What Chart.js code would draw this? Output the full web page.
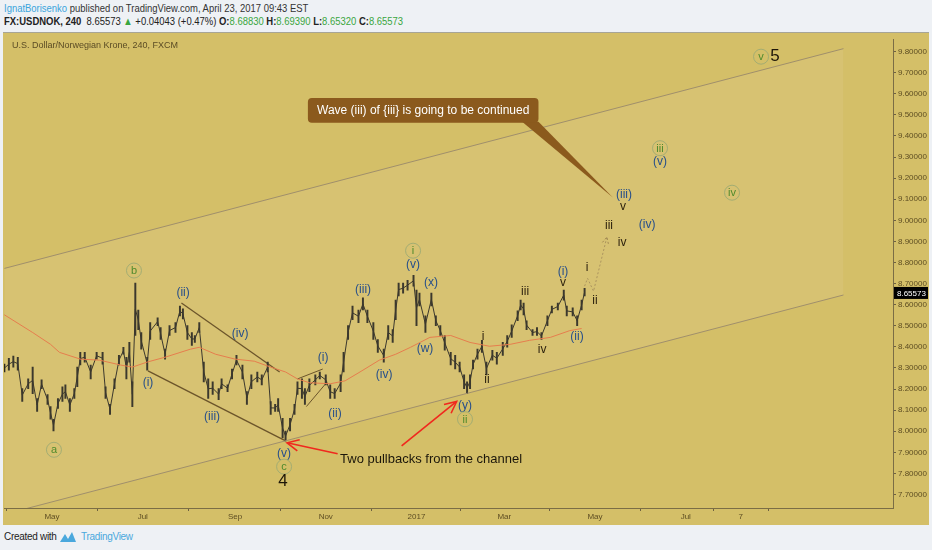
<!DOCTYPE html>
<html>
<head>
<meta charset="utf-8">
<script src="https://cdn.jsdelivr.net/npm/chart.js@4.4.0/dist/chart.umd.min.js"></script>
<style>
  body { margin:0; width:932px; height:550px; overflow:hidden; background:#eef1f5; font-family:"Liberation Sans", Arial, sans-serif; }
  .line1, .line2 { position:absolute; left:4px; font-size:11px; white-space:nowrap; transform:scaleX(0.86); transform-origin:left top; }
  .line1 { top:2px; color:#333; }
  .line2 { top:15px; color:#222; }
  .user { color:#3ba4dc; }
  .g { color:#3aa640; }
  b { font-weight:bold; }
  .topline { position:absolute; left:3px; top:32px; width:926px; height:1px; background:#a7a596; }
  #wrap { position:absolute; left:3px; top:33px; width:926px; height:492px; }
  .title { position:absolute; left:12px; top:40px; font-size:9px; color:#5b4c25; }
  .foot { position:absolute; left:4px; top:531px; font-size:10px; color:#222; letter-spacing:-0.3px; }
  .foot .tv { color:#4aa8dd; margin-left:4px; }
  .logo { display:inline-block; vertical-align:middle; }
</style>
</head>
<body>
<div class="line1"><span class="user">IgnatBorisenko</span> published on TradingView.com, April 23, 2017 09:43 EST</div>
<div class="line2"><b>FX:USDNOK, 240</b>&nbsp; 8.65573 <span class="g">▲</span> +0.04043 (+0.47%) <b>O:</b><span class="g">8.68830</span> <b>H:</b><span class="g">8.69390</span> <b>L:</b><span class="g">8.65320</span> <b>C:</b><span class="g">8.65573</span></div>
<div class="topline"></div>
<div id="wrap"><canvas id="chart"></canvas></div>
<div class="title">U.S. Dollar/Norwegian Krone, 240, FXCM</div>
<div class="foot">Created with <svg class="logo" width="18" height="12" viewBox="0 0 18 12"><path d="M1 11 L6 3 L9 8 L13 1 L17 11 Z" fill="#4aa8dd"/></svg><span class="tv">TradingView</span></div>

<script>
// days counted from 1 May 2016 (time axis of the 4H chart, squeezed to calendar days)
const tickDays = [0, 61, 123, 184, 245, 304, 365, 426, 463];
const tickLabels = ['May', 'Jul', 'Sep', 'Nov', '2017', 'Mar', 'May', 'Jul', '7'];
const priceTicks = [7.7, 7.8, 7.9, 8.0, 8.1, 8.2, 8.3, 8.4, 8.5, 8.6, 8.7, 8.8, 8.9, 9.0, 9.1, 9.2, 9.3, 9.4, 9.5, 9.6, 9.7, 9.8];

// price swings (low / high per sample)
const barDay = [
  -32, -29, -26, -23, -20, -16, -13, -10, -7, -3,
  -1, 1, 4, 7, 9, 12, 15, 17, 19, 22,
  26, 30, 34, 36, 39, 42, 45, 48, 50, 52,
  54, 56, 58, 60, 64, 66, 71, 73, 76, 79,
  83, 86, 88, 91, 94, 96, 99, 102, 105, 108,
  112, 114, 118, 121, 124, 128, 131, 134, 138, 141,
  145, 147, 150, 152, 155, 157, 160, 163, 165, 168,
  170, 173, 177, 180, 184, 187, 190, 194, 196, 199,
  202, 206, 209, 212, 216, 219, 223, 226, 229, 231,
  233, 236, 239, 243, 245, 247, 251, 255, 258, 261,
  264, 268, 271, 274, 277, 279, 281, 283, 286, 289,
  292, 296, 299, 303, 306, 309, 313, 315, 317, 319,
  323, 326, 329, 333, 336, 340, 344, 346, 350, 353,
  356, 358
];
const barHigh = [
  8.318, 8.346, 8.356, 8.351, 8.202, 8.248, 8.304, 8.155, 8.244, 8.174,
  8.117, 8.057, 8.155, 8.211, 8.220, 8.155, 8.202, 8.304, 8.374, 8.374,
  8.314, 8.374, 8.374, 8.211, 8.127, 8.248, 8.360, 8.398, 8.351, 8.421,
  8.234, 8.702, 8.575, 8.468, 8.351, 8.515, 8.538, 8.491, 8.389, 8.501,
  8.515, 8.594, 8.580, 8.501, 8.468, 8.454, 8.515, 8.328, 8.248, 8.234,
  8.202, 8.248, 8.220, 8.295, 8.360, 8.314, 8.188, 8.267, 8.281, 8.267,
  8.328, 8.141, 8.127, 8.155, 8.061, 8.001, 8.061, 8.127, 8.234, 8.248,
  8.202, 8.248, 8.267, 8.281, 8.267, 8.220, 8.202, 8.267, 8.374, 8.501,
  8.594, 8.575, 8.632, 8.575, 8.515, 8.435, 8.389, 8.501, 8.482, 8.622,
  8.702, 8.702, 8.716, 8.739, 8.669, 8.655, 8.547, 8.655, 8.547, 8.501,
  8.454, 8.374, 8.360, 8.328, 8.267, 8.234, 8.267, 8.337, 8.389, 8.431,
  8.328, 8.384, 8.374, 8.421, 8.454, 8.505, 8.571, 8.622, 8.608, 8.524,
  8.482, 8.491, 8.468, 8.547, 8.594, 8.608, 8.669, 8.594, 8.585, 8.547,
  8.622, 8.678
];
const barLow = [
  8.281, 8.290, 8.304, 8.290, 8.141, 8.202, 8.178, 8.094, 8.202, 8.127,
  8.057, 8.001, 8.108, 8.141, 8.155, 8.094, 8.155, 8.211, 8.314, 8.328,
  8.248, 8.342, 8.318, 8.155, 8.080, 8.202, 8.314, 8.365, 8.248, 8.328,
  8.117, 8.454, 8.482, 8.389, 8.290, 8.435, 8.501, 8.435, 8.342, 8.454,
  8.468, 8.547, 8.533, 8.435, 8.407, 8.421, 8.468, 8.234, 8.155, 8.174,
  8.150, 8.202, 8.188, 8.248, 8.314, 8.248, 8.127, 8.202, 8.234, 8.220,
  8.281, 8.080, 8.094, 8.094, 7.968, 7.954, 8.001, 8.080, 8.174, 8.155,
  8.127, 8.188, 8.220, 8.248, 8.220, 8.155, 8.155, 8.188, 8.281, 8.435,
  8.529, 8.515, 8.575, 8.515, 8.435, 8.374, 8.328, 8.435, 8.421, 8.529,
  8.641, 8.655, 8.669, 8.688, 8.501, 8.594, 8.468, 8.594, 8.501, 8.454,
  8.384, 8.314, 8.295, 8.281, 8.202, 8.178, 8.202, 8.295, 8.342, 8.374,
  8.267, 8.337, 8.318, 8.360, 8.398, 8.445, 8.524, 8.575, 8.552, 8.482,
  8.454, 8.454, 8.435, 8.501, 8.561, 8.575, 8.622, 8.547, 8.547, 8.501,
  8.575, 8.641
];
const lastClose = 8.65573;

// moving average (orange line)
const maDay = [-32, -13, -1, 5, 19, 32, 46, 54, 64, 76, 93, 99, 110, 123, 136, 147, 157, 165, 173, 187, 197, 207, 220, 231, 241, 254, 268, 281, 294, 308, 321, 335, 348, 356];
const maValue = [8.552, 8.468, 8.412, 8.374, 8.342, 8.337, 8.314, 8.304, 8.328, 8.351, 8.389, 8.398, 8.365, 8.342, 8.332, 8.304, 8.281, 8.248, 8.230, 8.225, 8.239, 8.281, 8.337, 8.365, 8.398, 8.445, 8.454, 8.421, 8.403, 8.412, 8.431, 8.445, 8.477, 8.487];

// trend lines
const channelDay = [-32, 532];
const channelTop = [8.772, 9.814];
const channelBottom = [7.606, 8.646];
const wedgeTopDay = [87, 153];
const wedgeTop = [8.608, 8.281];
const wedgeBottomDay = [64.5, 157];
const wedgeBottom = [8.286, 7.954];
const smallTopDay = [165, 182];
const smallTop = [8.248, 8.295];
const smallBottomDay = [171, 185];
const smallBottom = [8.117, 8.234];
const pathDay = [358, 360, 364, 373];
const pathPrice = [8.688, 8.725, 8.664, 8.921];

// red arrows: from -> to
const arrowFromDay = [192, 235];
const arrowFromPrice = [7.893, 7.931];
const arrowToDay = [158, 272];
const arrowToPrice = [7.945, 8.141];

// wave labels: b = blue, r = dark roman, c = circled, big = degree number
const waveText = ['b', 'a', '(i)', '(ii)', '(iii)', '(iv)', '(v)', 'c', '4', '(i)', '(ii)', '(iii)', '(iv)', 'i', '(v)', '(x)', '(w)', '(y)', 'ii', 'i', 'ii', 'iii', 'iv', '(i)', 'v', '(ii)', 'i', 'ii', 'iii', 'iv', '(iii)', 'v', '(iv)', 'iii', '(v)', 'iv', 'v', '5'];
const waveKind = ['c', 'c', 'b', 'b', 'b', 'b', 'b', 'c', 'big', 'b', 'b', 'b', 'b', 'c', 'b', 'b', 'b', 'b', 'c', 'r', 'r', 'r', 'r', 'b', 'r', 'b', 'r', 'r', 'r', 'r', 'b', 'r', 'b', 'c', 'b', 'c', 'c', 'big'];
const waveDay = [55.1, 1.3, 64.5, 88.1, 107.6, 126.4, 156.0, 156.0, 155.3, 182.2, 190.2, 209.1, 223.2, 242.7, 242.7, 254.8, 250.7, 277.6, 277.6, 289.7, 292.4, 318.0, 329.4, 343.5, 343.5, 352.9, 359.6, 365.0, 374.4, 383.2, 384.5, 383.8, 400.0, 408.7, 408.7, 457.1, 476.6, 486.0];
const wavePrice = [8.762, 7.912, 8.230, 8.655, 8.071, 8.463, 7.893, 7.832, 7.762, 8.351, 8.085, 8.669, 8.267, 8.856, 8.790, 8.706, 8.393, 8.122, 8.057, 8.449, 8.244, 8.664, 8.389, 8.758, 8.702, 8.449, 8.776, 8.617, 8.973, 8.893, 9.122, 9.066, 8.977, 9.342, 9.276, 9.131, 9.776, 9.776];

const noteText = 'Two pullbacks from the channel';
const noteDay = 193.6, notePrice = 7.865;
const calloutText = 'Wave (iii) of {iii} is going to be continued';
const calloutDay = [172, 327], calloutPrice = [9.580, 9.463];
const calloutTailDay = [316, 327, 377], calloutTailPrice = [9.463, 9.463, 9.108];

const pts = (xs, ys) => xs.map((v, i) => ({x: v, y: ys[i]}));

function arrowHead(ctx, x0, y0, x1, y1, len) {
  const a = Math.atan2(y1 - y0, x1 - x0);
  ctx.beginPath();
  ctx.moveTo(x1 - len * Math.cos(a - 0.45), y1 - len * Math.sin(a - 0.45));
  ctx.lineTo(x1, y1);
  ctx.lineTo(x1 - len * Math.cos(a + 0.45), y1 - len * Math.sin(a + 0.45));
  ctx.stroke();
}

const overlay = {
  id: 'overlay',
  beforeDraw(chart) {
    const ctx = chart.ctx;
    ctx.save();
    ctx.fillStyle = '#d4bf68';
    ctx.fillRect(0, 0, chart.width, chart.height);
    ctx.restore();
  },
  afterDatasetsDraw(chart) {
    const {ctx, chartArea, scales: {x, y}} = chart;
    ctx.save();
    ctx.beginPath();
    ctx.rect(chartArea.left, chartArea.top, chartArea.width, chartArea.height);
    ctx.clip();

    // projection arrow head
    const n = pathDay.length;
    ctx.strokeStyle = '#a38a52';
    ctx.lineWidth = 1;
    ctx.setLineDash([2, 2]);
    arrowHead(ctx, x.getPixelForValue(pathDay[n - 2]), y.getPixelForValue(pathPrice[n - 2]),
      x.getPixelForValue(pathDay[n - 1]), y.getPixelForValue(pathPrice[n - 1]), 7);
    ctx.setLineDash([]);

    // red arrows
    ctx.strokeStyle = '#f0281e';
    ctx.lineWidth = 1.6;
    arrowFromDay.forEach((d, i) => {
      const x0 = x.getPixelForValue(d), y0 = y.getPixelForValue(arrowFromPrice[i]);
      const x1 = x.getPixelForValue(arrowToDay[i]), y1 = y.getPixelForValue(arrowToPrice[i]);
      ctx.beginPath();
      ctx.moveTo(x0, y0);
      ctx.lineTo(x1, y1);
      ctx.stroke();
      arrowHead(ctx, x0, y0, x1, y1, 13);
    });

    // callout
    const bl = x.getPixelForValue(calloutDay[0]), br = x.getPixelForValue(calloutDay[1]);
    const bt = y.getPixelForValue(calloutPrice[0]), bb = y.getPixelForValue(calloutPrice[1]);
    ctx.fillStyle = '#8b5a1d';
    ctx.beginPath();
    ctx.moveTo(x.getPixelForValue(calloutTailDay[0]), y.getPixelForValue(calloutTailPrice[0]) - 1);
    ctx.lineTo(x.getPixelForValue(calloutTailDay[1]), y.getPixelForValue(calloutTailPrice[1]) - 1);
    ctx.lineTo(x.getPixelForValue(calloutTailDay[2]), y.getPixelForValue(calloutTailPrice[2]));
    ctx.closePath();
    ctx.fill();
    ctx.beginPath();
    ctx.roundRect(bl, bt, br - bl, bb - bt, 4);
    ctx.fill();
    ctx.fillStyle = '#ffffff';
    ctx.font = '12px "Liberation Sans", Arial, sans-serif';
    ctx.textAlign = 'center';
    ctx.textBaseline = 'middle';
    ctx.fillText(calloutText, (bl + br) / 2, (bt + bb) / 2);

    // note
    ctx.fillStyle = '#1c170b';
    ctx.font = '13px "Liberation Sans", Arial, sans-serif';
    ctx.textAlign = 'left';
    ctx.fillText(noteText, x.getPixelForValue(noteDay), y.getPixelForValue(notePrice));

    // wave labels
    ctx.textAlign = 'center';
    waveText.forEach((t, i) => {
      const px = x.getPixelForValue(waveDay[i]), py = y.getPixelForValue(wavePrice[i]);
      const k = waveKind[i];
      if (k === 'c') {
        ctx.strokeStyle = '#a3ad72';
        ctx.lineWidth = 1;
        ctx.beginPath();
        ctx.arc(px, py, 7.5, 0, Math.PI * 2);
        ctx.stroke();
        ctx.fillStyle = '#4f8a2c';
        ctx.font = '11px "Liberation Sans", Arial, sans-serif';
        ctx.fillText(t, px, py + 0.5);
      } else if (k === 'b') {
        ctx.fillStyle = '#274f8a';
        ctx.font = '12px "Liberation Sans", Arial, sans-serif';
        ctx.fillText(t, px, py);
      } else if (k === 'r') {
        ctx.fillStyle = '#2a1f0c';
        ctx.font = '12px "Liberation Sans", Arial, sans-serif';
        ctx.fillText(t, px, py);
      } else {
        ctx.fillStyle = '#1d1608';
        ctx.font = '17px "Liberation Sans", Arial, sans-serif';
        ctx.fillText(t, px, py);
      }
    });
    ctx.restore();
  },
  afterDraw(chart) {
    const {ctx, chartArea, scales: {y}} = chart;
    const py = y.getPixelForValue(lastClose);
    ctx.save();
    ctx.fillStyle = '#000000';
    ctx.fillRect(chartArea.right + 1, py - 6, chart.width - chartArea.right - 2, 12);
    ctx.fillStyle = '#ffffff';
    ctx.font = '8px "Liberation Sans", Arial, sans-serif';
    ctx.textAlign = 'left';
    ctx.textBaseline = 'middle';
    ctx.fillText(lastClose.toFixed(5), chartArea.right + 4, py + 0.5);
    ctx.restore();
  }
};

const lineDs = (data, color, extra) => Object.assign({
  type: 'line', data, borderColor: color, borderWidth: 1, pointRadius: 0, fill: false, tension: 0
}, extra || {});

new Chart(document.getElementById('chart'), {
  type: 'bar',
  data: {
    datasets: [
      lineDs(pts(channelDay, channelTop), '#a08f6c'),
      lineDs(pts(channelDay, channelBottom), '#a08f6c', {fill: '-1', backgroundColor: 'rgba(236,226,188,0.12)'}),
      lineDs(pts(maDay, maValue), '#e5703f'),
      {
        type: 'bar',
        data: barDay.map((d, i) => ({x: d, y: [barLow[i], barHigh[i]]})),
        backgroundColor: '#23211a',
        barThickness: 1.3,
        borderWidth: 0
      },
      lineDs(barDay.map((d, i) => ({x: d, y: (barLow[i] + barHigh[i]) / 2})), '#23211a', {borderWidth: 1}),
      lineDs(pts(wedgeTopDay, wedgeTop), '#5a4217', {borderWidth: 1.3}),
      lineDs(pts(wedgeBottomDay, wedgeBottom), '#5a4217', {borderWidth: 1.3}),
      lineDs(pts(smallTopDay, smallTop), '#5a4217'),
      lineDs(pts(smallBottomDay, smallBottom), '#5a4217'),
      lineDs(pts(pathDay, pathPrice), '#a38a52', {borderDash: [2, 2]})
    ]
  },
  options: {
    responsive: true,
    maintainAspectRatio: false,
    animation: false,
    layout: {padding: {left: 1, top: 0, right: 0, bottom: 0}},
    plugins: {legend: {display: false}, tooltip: {enabled: false}},
    scales: {
      x: {
        type: 'linear',
        min: -32.27,
        max: 565.3,
        offset: false,
        afterBuildTicks(scale) { scale.ticks = tickDays.map(v => ({value: v})); },
        afterFit(scale) { scale.height = 17; },
        ticks: {
          autoSkip: false,
          maxRotation: 0,
          padding: 1,
          color: '#5d4d22',
          font: {size: 8, family: '"Liberation Sans", Arial, sans-serif'},
          callback: (v, i) => tickLabels[i]
        },
        grid: {drawOnChartArea: false, drawTicks: true, tickLength: 3, color: '#6e6140'},
        border: {display: true, color: '#7b6d45'}
      },
      y: {
        type: 'linear',
        position: 'right',
        min: 7.636,
        max: 9.856,
        afterBuildTicks(scale) { scale.ticks = priceTicks.map(v => ({value: v})); },
        afterFit(scale) { scale.width = 36; },
        ticks: {
          autoSkip: false,
          padding: 2,
          color: '#5d4d22',
          font: {size: 8, family: '"Liberation Sans", Arial, sans-serif'},
          callback: v => v.toFixed(5)
        },
        grid: {drawOnChartArea: false, drawTicks: true, tickLength: 3, color: '#6e6140'},
        border: {display: true, color: '#7b6d45'}
      }
    }
  },
  plugins: [overlay]
});
</script>
</body>
</html>
